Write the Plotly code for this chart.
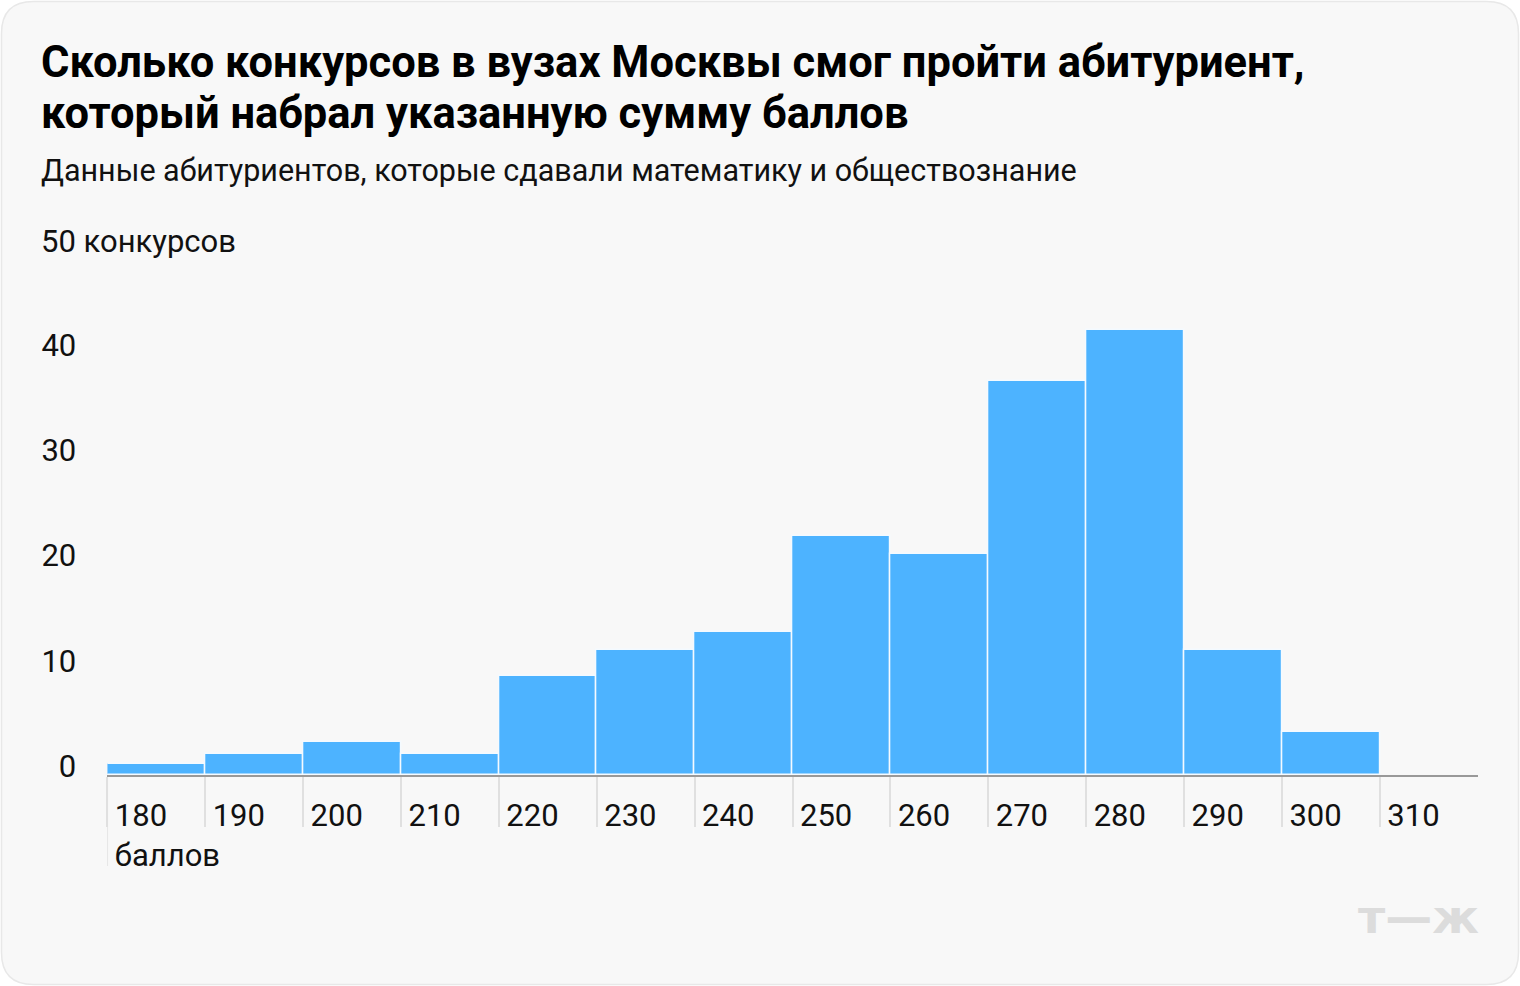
import plotly.graph_objects as go

W, H = 1520, 986

# Data
bin_starts = [180, 190, 200, 210, 220, 230, 240, 250, 260, 270, 280, 290, 300]
contests = [1.0, 2.0, 3.1, 2.0, 9.4, 11.85, 13.6, 22.7, 21.0, 37.5, 42.3, 11.85, 4.05]
x_ticks = [180, 190, 200, 210, 220, 230, 240, 250, 260, 270, 280, 290, 300, 310]
x_ticktext = ["180<br>баллов"] + [str(v) for v in x_ticks[1:]]
y_ticks = [0, 10, 20, 30, 40]
y_top_label = "50 конкурсов"

title_lines = ["Сколько конкурсов в вузах Москвы смог пройти абитуриент,",
               "который набрал указанную сумму баллов"]
subtitle_text = "Данные абитуриентов, которые сдавали математику и обществознание"

FONT = "Roboto"
BAR = "#4db3ff"
CARD = "#f8f8f8"
TXT = 31

def px(x):
    return x / W

def py(y):
    return 1 - y / H

fig = go.Figure()
fig.add_trace(go.Bar(
    x=bin_starts, y=contests, width=10, offset=0,
    marker=dict(color=BAR, line=dict(color="#f4faff", width=1.5)),
    hoverinfo="x+y",
))

# rounded card
x0, x1, y0, y1, r = 1.5, 1518.5, 1.5, 984.5, 32
path = (
    f"M {px(x0+r)},{py(y0)} L {px(x1-r)},{py(y0)} Q {px(x1)},{py(y0)} {px(x1)},{py(y0+r)} "
    f"L {px(x1)},{py(y1-r)} Q {px(x1)},{py(y1)} {px(x1-r)},{py(y1)} "
    f"L {px(x0+r)},{py(y1)} Q {px(x0)},{py(y1)} {px(x0)},{py(y1-r)} "
    f"L {px(x0)},{py(y0+r)} Q {px(x0)},{py(y0)} {px(x0+r)},{py(y0)} Z"
)
shapes = [dict(type="path", path=path, xref="paper", yref="paper",
               fillcolor=CARD, line=dict(color="#e8e8e8", width=1.5), layer="below")]
# long tick under first label
shapes.append(dict(type="line", xref="x", yref="paper", x0=180, x1=180,
                   y0=py(776), y1=py(866), line=dict(color="#e0e0e0", width=1.5), layer="below"))

x_dom = [px(107.3), px(1477.7)]
y_dom = [py(775), py(249)]

annotations = []
for line, ypix in zip(title_lines, [62, 114]):
    annotations.append(dict(text=f"<b>{line}</b>", xref="paper", yref="paper", x=px(39), y=py(ypix),
                            xanchor="left", yanchor="middle", align="left", showarrow=False,
                            font=dict(size=43.5, color="#000000", family=FONT)))
annotations += [
    dict(text=subtitle_text, xref="paper", yref="paper", x=px(39), y=py(171),
         xanchor="left", yanchor="middle", align="left", showarrow=False,
         font=dict(size=30.5, color="#111111", family=FONT)),
    dict(text=y_top_label, xref="paper", yref="y", x=px(39), y=50, yshift=7,
         xanchor="left", yanchor="middle", align="left", showarrow=False,
         font=dict(size=TXT, color="#111111", family=FONT)),
    dict(text="<b>т—ж</b>", xref="paper", yref="paper", x=px(1481), y=py(916),
         xanchor="right", yanchor="middle", showarrow=False,
         font=dict(size=47, color="#dcdcdc", family="DejaVu Sans")),
]

fig.update_layout(
    width=W, height=H,
    margin=dict(l=0, r=0, t=0, b=0, autoexpand=False),
    paper_bgcolor="#ffffff",
    plot_bgcolor="rgba(0,0,0,0)",
    showlegend=False,
    bargap=0,
    font=dict(family=FONT, color="#111111", size=TXT),
    shapes=shapes,
    xaxis=dict(
        domain=x_dom, range=[180, 320], tickvals=x_ticks, ticktext=x_ticktext,
        automargin=False,
        showgrid=False, zeroline=False,
        showline=True, linecolor="#999999", linewidth=1.5,
        ticks="outside", ticklen=50, tickcolor="#e0e0e0", tickwidth=1.5,
        ticklabelposition="outside right", ticklabelstandoff=12, ticklabelshift=6,
        tickfont=dict(size=TXT, color="#111111", family=FONT),
        fixedrange=True,
    ),
    yaxis=dict(
        domain=y_dom, range=[0, 50], tickvals=y_ticks,
        automargin=False,
        showgrid=False, zeroline=False, showline=False,
        ticks="", ticklabelposition="outside", ticklabelstandoff=30, ticklabelshift=-9,
        tickfont=dict(size=TXT, color="#111111", family=FONT),
        fixedrange=True,
    ),
    annotations=annotations,
)

fig.write_html(
    "out.html",
    config={"responsive": False, "displayModeBar": False},
    post_script="document.body.style.margin='0';",
)
